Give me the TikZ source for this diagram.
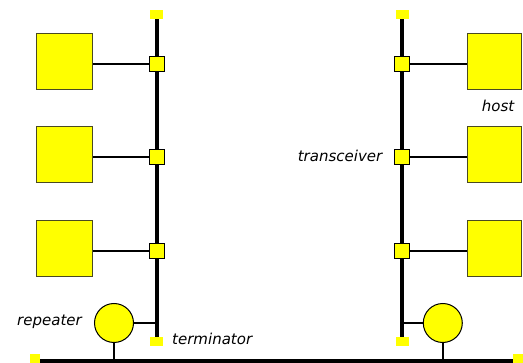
\documentclass[tikz,border=0pt]{standalone}
\usepackage{fontspec}
\setmainfont{DejaVu Sans}
\definecolor{yel}{HTML}{FFFF00}
\definecolor{hostborder}{HTML}{4A4A20}
\tikzset{
  hostbox/.style={draw=hostborder, fill=yel, line width=1pt, minimum width=56pt, minimum height=56pt, inner sep=0pt},
  xcvr/.style={draw=black, fill=yel, line width=1pt, minimum width=15pt, minimum height=15pt, inner sep=0pt},
  term/.style={fill=yel, draw=none, minimum width=13pt, minimum height=9pt, inner sep=0pt},
  bterm/.style={fill=yel, draw=none, minimum width=10pt, minimum height=9pt, inner sep=0pt},
  rep/.style={draw=black, fill=yel, line width=1pt, circle, minimum size=39pt, inner sep=0pt},
  thick line/.style={line width=4pt},
  thin line/.style={line width=2pt},
  lbl/.style={font=\fontsize{15}{17}\selectfont\itshape, inner sep=0pt}
}
\begin{document}
\begin{tikzpicture}[x=1pt,y=-1pt]
\useasboundingbox (0,0) rectangle (523,363);
% left column
\node[term] (lt) at (156.5,14.5) {};
\node[term] (lb) at (156.5,342) {};
\node[hostbox] (lh1) at (64,62) {};
\node[hostbox] (lh2) at (64,155) {};
\node[hostbox] (lh3) at (64,249) {};
\node[rep] (lr) at (114,323) {};
\coordinate (lj) at (156.5,323);
% right column
\node[term] (rt) at (402.3,14.5) {};
\node[term] (rb) at (402.3,342) {};
\node[hostbox, minimum width=54pt] (rh1) at (494.5,62) {};
\node[hostbox, minimum width=54pt] (rh2) at (494.5,155) {};
\node[hostbox, minimum width=54pt] (rh3) at (494.5,249) {};
\node[rep] (rr) at (442.8,323) {};
\coordinate (rj) at (402.3,323);
% bus
\node[bterm] (bl) at (35,359) {};
\node[bterm] (br) at (518,359) {};
\coordinate (bll) at (40,361);
\coordinate (brr) at (513,361);
\coordinate (lbus) at (114,361);
\coordinate (rbus) at (442.8,361);
\draw[thick line] (lt.south) -- (lb.north);
\draw[thick line] (rt.south) -- (rb.north);
\draw[thick line] (bll) -- (brr);
% transceivers (drawn over the cable)
\node[xcvr] (lx1) at (156.5,64) {};
\node[xcvr] (lx2) at (156.5,157.5) {};
\node[xcvr] (lx3) at (156.5,251) {};
\node[xcvr] (rx1) at (402.3,64) {};
\node[xcvr] (rx2) at (402.3,157.5) {};
\node[xcvr] (rx3) at (402.3,251) {};
% drop cables
\draw[thin line] (lx1.west) -- (lx1.west -| lh1.east);
\draw[thin line] (lx2.west) -- (lx2.west -| lh2.east);
\draw[thin line] (lx3.west) -- (lx3.west -| lh3.east);
\draw[thin line] (rx1.east) -- (rx1.east -| rh1.west);
\draw[thin line] (rx2.east) -- (rx2.east -| rh2.west);
\draw[thin line] (rx3.east) -- (rx3.east -| rh3.west);
\draw[thin line] (lr.east) -- (lj);
\draw[thin line] (rr.west) -- (rj);
\draw[thin line] (lr.south) -- (lbus);
\draw[thin line] (rr.south) -- (rbus);
% labels
\node[lbl, anchor=east] (lrep) at (82,322) {repeater};
\node[lbl, anchor=west] (lterm) at (172,339) {terminator};
\node[lbl] (lhost) at (498,106) {host};
\node[lbl, anchor=east] (ltr) at (382.5,156) {transceiver};
\end{tikzpicture}
\end{document}
